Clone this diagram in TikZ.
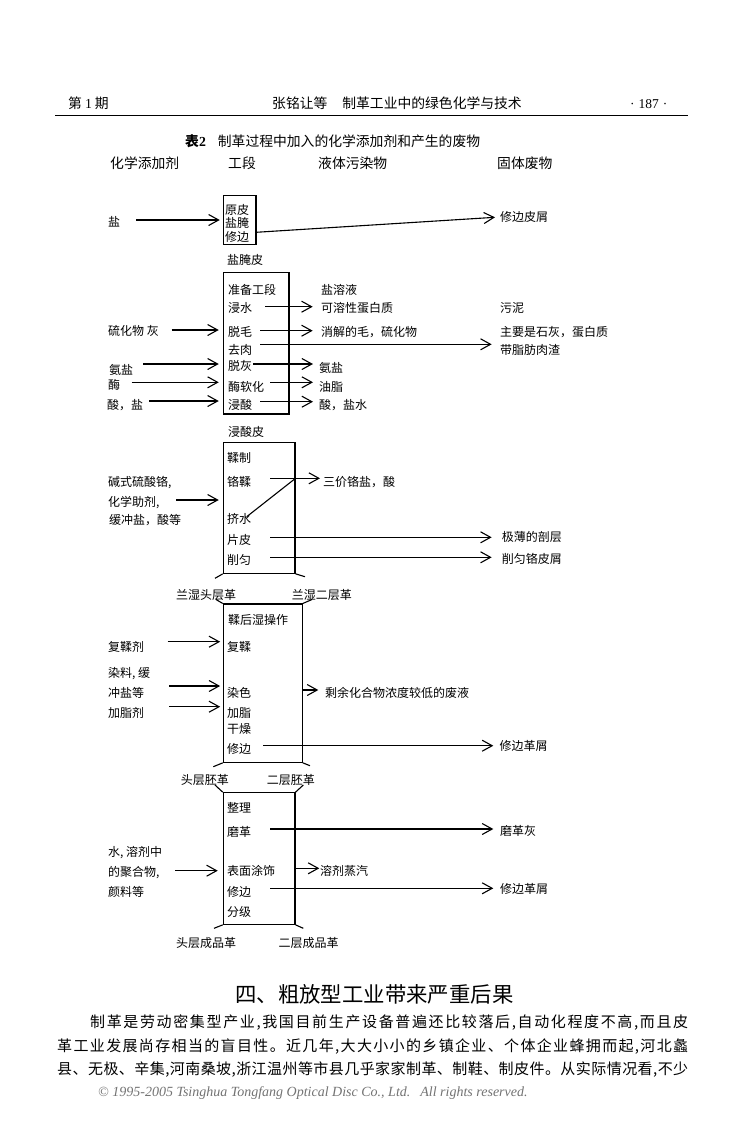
\documentclass[tikz,border=0pt]{standalone}
\usepackage{fontspec}
\setmainfont{Liberation Serif}
\newfontfamily\cjk{Noto Sans CJK SC}
\usetikzlibrary{arrows.meta}
\makeatletter
\def\spreadfirst#1{#1\spreadrest}
\def\spreadrest#1{\ifx#1\relax\else\hfil#1\expandafter\spreadrest\fi}
\newcommand\spreadline[2]{\hbox to #1{\spreadfirst#2\relax}}
\makeatother
\begin{document}
\begin{tikzpicture}[x=1pt,y=-1pt,
 lbl/.style={font=\cjk\fontsize{12}{14}\selectfont, anchor=west, inner sep=0pt, text height=10.5pt, text depth=1.5pt},
 hdr/.style={font=\cjk\fontsize{13.8}{16}\selectfont, anchor=west, inner sep=0pt, text height=12.1pt, text depth=1.7pt},
 para/.style={font=\cjk\fontsize{15}{18}\selectfont, anchor=west, inner sep=0pt},
 boxst/.style={draw, line width=1.1pt, inner sep=0pt},
 arr/.style={-{Straight Barb[length=10pt,width=11pt]}, line width=1.1pt},
 ln/.style={line width=1.1pt}]
\fill[white] (0,0) rectangle (741,1122);
\useasboundingbox (0,0) rectangle (741,1122);

% ---------- page header ----------
\node[hdr] (h1) at (68,103) {第\hspace{3pt}{\rmfamily 1}\hspace{3pt}期};
\node[hdr] (h2) at (272,103) {张铭让等\hspace{15pt}制革工业中的绿色化学与技术};
\node[hdr, font=\rmfamily\fontsize{13.5}{16}\selectfont] (h3) at (630,103) {·\hspace{4pt}187\hspace{4pt}·};
\coordinate (rl) at (55,115.5);
\coordinate (rr) at (688,115.5);
\draw[line width=1.5pt] (rl) -- (rr);

% ---------- title and column heads ----------
\node[hdr] (tt) at (185,141.7) {{\bfseries 表{\rmfamily 2}}\hspace{12pt}制革过程中加入的化学添加剂和产生的废物};
\node[hdr] (c1) at (110,163) {化学添加剂};
\node[hdr] (c2) at (228,163) {工段};
\node[hdr] (c3) at (318,163) {液体污染物};
\node[hdr] (c4) at (497,163) {固体废物};

% ---------- box 1 ----------
\node[boxst, minimum width=32.7pt, minimum height=48.6pt] (b1) at (239.65,220) {};
\node[lbl] (p11) at (225,210) {原皮};
\node[lbl] (p12) at (225,223.3) {盐腌};
\node[lbl] (p13) at (225,236.7) {修边};
\node[lbl] (l1) at (108,222) {盐};
\node[lbl] (r1) at (500,217.3) {修边皮屑};
\coordinate (a1) at (136,220);
\draw[arr, shorten >=3pt] (a1) -- (a1 -| b1.west);
\coordinate (e1) at (256,232.3);
\draw[arr] (e1) -- ([xshift=-5pt]r1.west);
\node[lbl] (s1) at (227,260) {盐腌皮};

% ---------- box 2 ----------
\node[boxst, minimum width=65.7pt, minimum height=141.7pt] (b2) at (256.15,343.15) {};
\node[lbl] (q1) at (228,290) {准备工段};
\node[lbl] (q2) at (228,308.3) {浸水};
\node[lbl] (q3) at (228,331.7) {脱毛};
\node[lbl] (q4) at (228,350) {去肉};
\node[lbl] (q5) at (228,366) {脱灰};
\node[lbl] (q6) at (228,386.7) {酶软化};
\node[lbl] (q7) at (228,405) {浸酸};
\node[lbl] (l21) at (108,331) {硫化物 灰};
\node[lbl] (l22) at (109,370) {氨盐};
\node[lbl] (l23) at (108,385) {酶};
\node[lbl] (l24) at (107,405) {酸，盐};
\coordinate (a21) at (171.7,330);
\coordinate (a22) at (143,364);
\coordinate (a23) at (131.7,382.3);
\coordinate (a24) at (149,401);
\foreach \c in {a21,a22,a23,a24} \draw[arr, shorten >=4pt] (\c) -- (\c -| b2.west);
\node[lbl] (r21) at (321,290) {盐溶液};
\node[lbl] (r22) at (321,308.3) {可溶性蛋白质};
\node[lbl] (r23) at (321,331.7) {消解的毛，硫化物};
\node[lbl] (r24) at (319,367.7) {氨盐};
\node[lbl] (r25) at (319,386.7) {油脂};
\node[lbl] (r26) at (319,405) {酸，盐水};
\node[lbl] (f21) at (500,308.3) {污泥};
\node[lbl] (f22) at (500,331.7) {主要是石灰，蛋白质};
\node[lbl] (f23) at (500,350) {带脂肪肉渣};
\coordinate (o22) at (265,306.7);
\coordinate (o23) at (260,330.7);
\coordinate (o24) at (260,344.3);
\coordinate (o25) at (253,364);
\coordinate (o26) at (270,382.3);
\coordinate (o27) at (260,401.7);
\draw[arr] (o22) -- (o22 -| 312.7,0);
\draw[arr] (o23) -- (o23 -| 312.7,0);
\draw[arr] (o24) -- (o24 -| 491.7,0);
\draw[arr] (o25) -- (o25 -| 313,0);
\draw[arr] (o26) -- (o26 -| 313,0);
\draw[arr] (o27) -- (o27 -| 313,0);

% ---------- box 3 ----------
\node[lbl] (s2) at (228,431.7) {浸酸皮};
\node[boxst, minimum width=71.7pt, minimum height=131pt] (b3) at (259.15,507.8) {};
\node[lbl] (k1) at (227,458.3) {鞣制};
\node[lbl] (k2) at (227,481.7) {铬鞣};
\node[lbl] (k3) at (227,519.3) {挤水};
\node[lbl] (k4) at (227,540) {片皮};
\node[lbl] (k5) at (227,560) {削匀};
\node[lbl] (l31) at (108,481.7) {碱式硫酸铬,};
\node[lbl] (l32) at (108,501.7) {化学助剂,};
\node[lbl] (l33) at (109,520) {缓冲盐，酸等};
\coordinate (a31) at (176,500);
\draw[arr, shorten >=4pt] (a31) -- (a31 -| b3.west);
\node[lbl] (r31) at (323,481.7) {三价铬盐，酸};
\node[lbl] (r32) at (501.7,537.3) {极薄的剖层};
\node[lbl] (r33) at (501.7,559) {削匀铬皮屑};
\coordinate (o31) at (270,478.3);
\coordinate (o32) at (246.7,516.7);
\coordinate (o33) at (270,537.3);
\coordinate (o34) at (270,557.3);
\draw[arr] (o31) -- (o31 -| 320,0);
\draw[ln] (o32) -- (o31 -| b3.east);
\draw[arr] (o33) -- (o33 -| 491.7,0);
\draw[arr] (o34) -- (o34 -| 491.7,0);
\coordinate (t31) at (215,578.3);
\coordinate (t32) at (305,576.7);
\draw[ln] (b3.south west) -- (t31);
\draw[ln] (b3.south east) -- (t32);
\node[lbl] (u31) at (176,595) {兰湿头层革};
\node[lbl] (u32) at (291.7,595) {兰湿二层革};

% ---------- box 4 ----------
\node[boxst, minimum width=79pt, minimum height=158.3pt] (b4) at (262.8,683.15) {};
\coordinate (t41) at (216,599.5);
\coordinate (t42) at (312,599.5);
\draw[ln] (b4.north west) -- (t41);
\draw[ln] (b4.north east) -- (t42);
\node[lbl] (m0) at (228,620) {鞣后湿操作};
\node[lbl] (m1) at (227,646.7) {复鞣};
\node[lbl] (m2) at (227,692.7) {染色};
\node[lbl] (m3) at (227,712.7) {加脂};
\node[lbl] (m4) at (227,729.3) {干燥};
\node[lbl] (m5) at (227,749.3) {修边};
\node[lbl] (l41) at (108,646.7) {复鞣剂};
\node[lbl] (l42) at (108,672.7) {染料, 缓};
\node[lbl] (l43) at (108,692.7) {冲盐等};
\node[lbl] (l44) at (108,712.7) {加脂剂};
\coordinate (a41) at (167.7,641.7);
\coordinate (a42) at (169.3,686);
\coordinate (a43) at (169.3,706.7);
\foreach \c in {a41,a42,a43} \draw[arr, shorten >=2.6pt] (\c) -- (\c -| b4.west);
\node[lbl] (r41) at (325,692.7) {剩余化合物浓度较低的废液};
\node[lbl] (r42) at (499.3,745.7) {修边革屑};
\coordinate (o41) at (302.3,690);
\coordinate (o42) at (263.3,745.7);
\draw[arr] (o41 -| b4.east) -- (o41 -| 318.3,0);
\draw[arr] (o42) -- (o42 -| 493.3,0);
\coordinate (t43) at (213.3,766.7);
\coordinate (t44) at (310,765.7);
\draw[ln] (b4.south west) -- (t43);
\draw[ln] (b4.south east) -- (t44);
\node[lbl] (u41) at (180.7,780) {头层胚革};
\node[lbl] (u42) at (266.7,780) {二层胚革};

% ---------- box 5 ----------
\node[boxst, minimum width=71.7pt, minimum height=131.6pt] (b5) at (259.15,858.5) {};
\coordinate (t51) at (215,785);
\coordinate (t52) at (303.3,785);
\draw[ln] (b5.north west) -- (t51);
\draw[ln] (b5.north east) -- (t52);
\node[lbl] (g1) at (227,808.3) {整理};
\node[lbl] (g2) at (227,831.7) {磨革};
\node[lbl] (g3) at (227,871) {表面涂饰};
\node[lbl] (g4) at (227,891.7) {修边};
\node[lbl] (g5) at (227,911.7) {分级};
\node[lbl] (l51) at (108,851.7) {水, 溶剂中};
\node[lbl] (l52) at (108,871.7) {的聚合物,};
\node[lbl] (l53) at (108,891.7) {颜料等};
\coordinate (a51) at (175,870.7);
\draw[arr, shorten >=5pt] (a51) -- (a51 -| b5.west);
\node[lbl] (r51) at (500,831) {磨革灰};
\node[lbl] (r52) at (320,871) {溶剂蒸汽};
\node[lbl] (r53) at (500,889) {修边革屑};
\coordinate (o51) at (270,829);
\coordinate (o52) at (296.7,868.3);
\coordinate (o53) at (270,888.3);
\draw[arr] (o51) -- (o51 -| 493.3,0);
\draw[arr] (o52 -| b5.east) -- (o52 -| 319.3,0);
\draw[arr] (o53) -- (o53 -| 493.3,0);
\coordinate (t53) at (214,928.3);
\coordinate (t54) at (303.3,928.3);
\draw[ln] (b5.south west) -- (t53);
\draw[ln] (b5.south east) -- (t54);
\node[lbl] (u51) at (176,942.7) {头层成品革};
\node[lbl] (u52) at (278.3,942.7) {二层成品革};

% ---------- section and body text ----------
\node[font=\cjk\fontsize{21.4}{24}\selectfont, anchor=west, inner sep=0pt] (sec) at (235,994) {四、粗放型工业带来严重后果};
\node[para] (pa1) at (90,1023) {\spreadline{598pt}{制革是劳动密集型产业,我国目前生产设备普遍还比较落后,自动化程度不高,而且皮}};
\node[para] (pa2) at (57,1047) {\spreadline{631pt}{革工业发展尚存相当的盲目性。近几年,大大小小的乡镇企业、个体企业蜂拥而起,河北蠡}};
\node[para] (pa3) at (57,1070) {\spreadline{631pt}{县、无极、辛集,河南桑坡,浙江温州等市县几乎家家制革、制鞋、制皮件。从实际情况看,不少}};
\node[font=\rmfamily\itshape\fontsize{14}{16}\selectfont, text=black!55, anchor=west, inner sep=0pt] (ft) at (98,1093) {© 1995-2005 Tsinghua Tongfang Optical Disc Co., Ltd.\hspace{10pt}All rights reserved.};
\end{tikzpicture}
\end{document}
